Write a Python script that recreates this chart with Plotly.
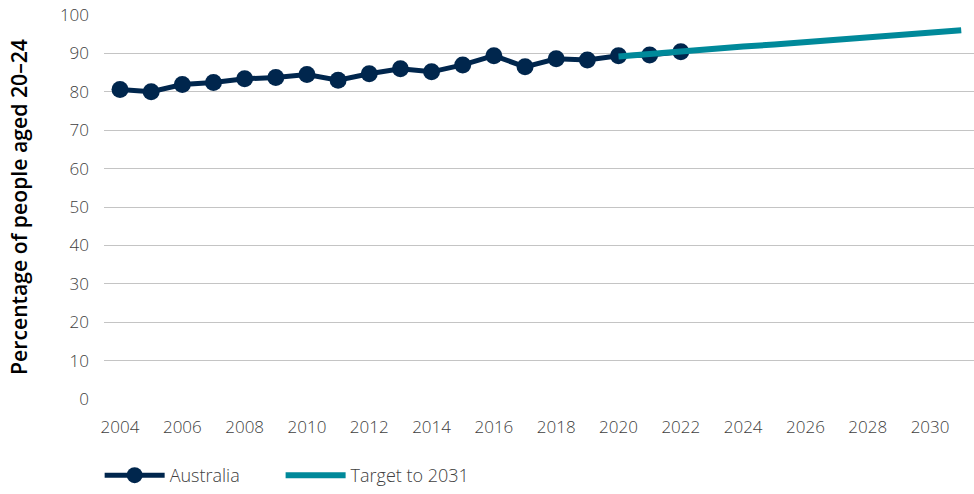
import plotly.graph_objects as go

years_aus = list(range(2004, 2023))
aus_values = [80.6, 80.0, 81.9, 82.4, 83.4, 83.7, 84.5, 83.0, 84.7, 86.0, 85.2, 87.0,
              89.4, 86.5, 88.6, 88.3, 89.4, 89.6, 90.4]
years_target = list(range(2020, 2032))
target_values = [89.2, 89.9, 90.5, 91.2, 91.8, 92.3, 92.9, 93.5, 94.1, 94.7, 95.4, 96.0]
x_ticks = list(range(2004, 2031, 2))
y_ticks = list(range(0, 101, 10))

NAVY = "#00264d"
TEAL = "#00899a"
FONT = "Open Sans"
TXT = "#404040"

fig = go.Figure()
fig.add_trace(go.Scatter(x=years_aus, y=aus_values, name="Australia", mode="lines+markers",
                         line=dict(color=NAVY, width=5), marker=dict(color=NAVY, size=17),
                         legend="legend", showlegend=True))
fig.add_trace(go.Scatter(x=years_target, y=target_values, name="Target to 2031", mode="lines",
                         line=dict(color=TEAL, width=6), legend="legend2", showlegend=True))

leg_common = dict(orientation="h", xanchor="left", y=-0.2, yanchor="middle",
                  font=dict(size=18, color=TXT, weight=300), itemwidth=60)

fig.update_layout(
    width=974, height=494, plot_bgcolor="white", paper_bgcolor="white",
    margin=dict(l=104, r=0, t=15, b=92),
    font=dict(family=FONT, size=17, color=TXT, weight=300),
    showlegend=True,
    legend=dict(x=-0.005, visible=True, **leg_common),
    legend2=dict(x=0.203, visible=True, **leg_common),
    xaxis=dict(range=[2003.486, 2031.41], tickvals=x_ticks, showgrid=False, zeroline=False,
               showline=False, ticks="", ticklabelstandoff=16, tickfont=dict(size=17)),
    yaxis=dict(range=[0, 100], tickvals=y_ticks, showgrid=True, gridcolor="#c4c4c4", gridwidth=1,
               zeroline=False, ticks="", ticklabelstandoff=14,
               tickfont=dict(size=17),
               title=dict(text="Percentage of people aged 20–24",
                          font=dict(size=21.2, color="#000000", weight=600),
                          standoff=26)),
)
fig.write_html("out.html")
